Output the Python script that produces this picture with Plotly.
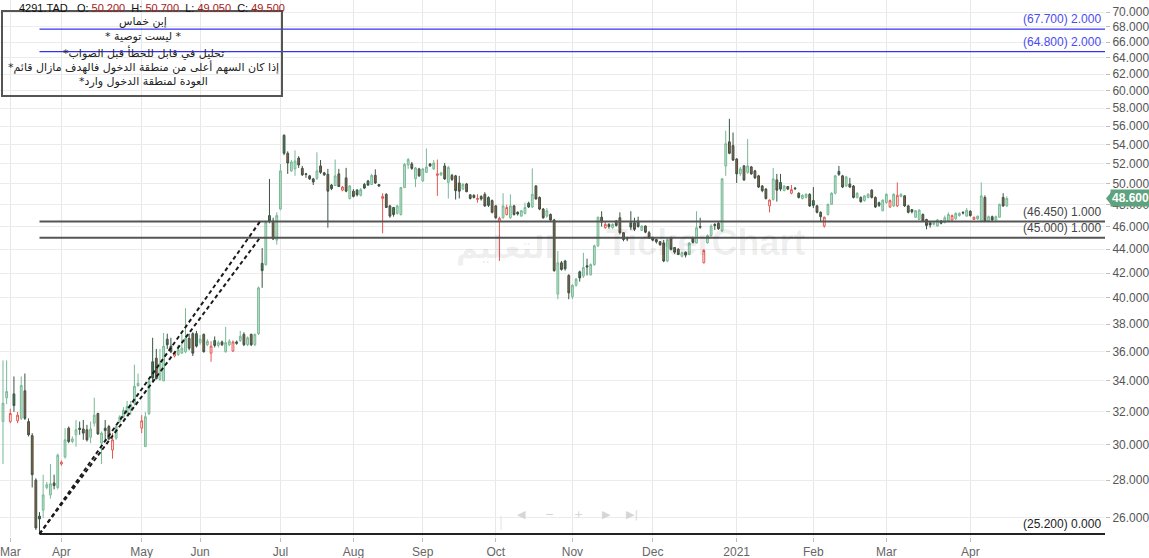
import math
import plotly.graph_objects as go

# ---------------- data ----------------
month_ticks = [2, 16, 38, 54, 76, 96, 115, 135, 156, 178, 201, 222, 242, 265]
month_labels = ["Mar", "Apr", "May", "Jun", "Jul", "Aug", "Sep", "Oct", "Nov", "Dec",
                "2021", "Feb", "Mar", "Apr"]

opens = [31.4, 32.9, 31.4, 33.15, 31.45, 31.6, 33.35, 31.4, 30.55, 28.0, 26.1, 26.4, 27.6, 27.2, 27.85, 27.6,
         28.9, 29.3, 31.0, 30.2, 30.6, 31.0, 30.95, 30.9, 30.45, 31.3, 31.9, 30.1, 31.0, 31.1, 29.7, 30.4,
         31.4, 31.7, 31.95, 32.1, 32.55, 33.7,
         31.0, 29.9, 31.9, 35.3, 35.55, 34.1, 34.0, 36.9, 36.4, 35.7, 35.8, 35.9, 36.0, 36.95, 37.3, 37.3,
         36.65, 37.25, 36.5, 35.9, 36.8, 36.45, 36.7, 36.0, 36.5, 36.05, 36.7, 36.8, 37.25, 36.5, 37.25, 36.5,
         37.3, 42.8, 42.7, 47.0, 46.5, 44.8,
         47.6, 55.0, 53.1, 51.3, 51.5, 52.6, 51.55, 51.0, 50.8, 50.5, 50.55, 51.8, 51.1, 50.95, 49.9, 49.85,
         51.0, 49.4, 50.6, 48.6,
         49.3, 49.4, 48.9, 49.95, 50.3, 49.95, 50.85, 49.95, 48.6, 49.0, 47.9, 47.75, 47.2, 47.1, 49.65, 51.9,
         52.0, 50.5, 51.5,
         50.3, 51.15, 52.0, 51.5, 50.85, 50.9, 51.8, 50.15, 50.85, 50.8, 50.1, 49.5, 50.0, 48.95, 48.9, 48.5,
         48.8, 49.0, 48.7, 48.4,
         47.9, 46.45, 46.8, 47.1, 46.8, 47.9, 47.3, 46.95, 47.2, 48.15, 47.8, 49.8, 48.7, 47.6, 46.95, 47.1,
         46.6, 40.3, 42.85, 43.0, 41.8,
         40.1, 41.0, 42.1, 41.75, 42.6, 41.85, 42.7, 44.3, 46.85, 45.9, 46.2, 45.9, 46.5, 46.8, 45.45, 45.0,
         46.35, 46.35, 46.5, 45.65, 46.05, 45.45,
         45.0, 44.85, 44.65, 44.55, 43.0, 45.0, 44.15, 44.0, 43.4, 43.75, 43.55, 45.0, 44.55, 46.0, 42.85, 44.55,
         45.2, 46.2, 46.3, 45.6, 51.8, 54.3, 53.9,
         52.5, 51.0, 51.8, 51.15, 51.7, 51.3, 50.8, 49.8, 49.5, 47.9, 48.5, 50.4, 50.15, 49.35, 49.75, 49.1,
         49.6, 49.1, 48.6, 48.7, 49.0,
         48.4, 47.9, 47.3, 46.05, 47.1, 48.05, 49.1, 51.25, 50.8, 49.8, 50.0, 49.8, 48.7, 48.7, 48.4, 48.7,
         49.4, 48.7, 48.2, 47.45,
         48.2, 47.8, 47.9, 47.9, 48.8, 48.85, 47.9, 47.55, 46.85, 46.65, 47.1, 46.65, 46.35, 46.2, 46.05, 46.5,
         46.35, 46.5, 46.6, 46.7, 47.0, 47.3, 46.95,
         47.4, 46.65, 46.7, 46.5, 48.7, 46.5, 46.9, 46.6, 46.85, 48.7, 47.9]

highs = [35.4, 35.4, 32.2, 34.3, 32.0, 34.3, 34.5, 31.6, 30.7, 28.1, 26.3, 28.3, 27.9, 28.9, 28.3, 29.5,
         29.1, 31.0, 31.1, 30.5, 31.5, 31.4, 31.5, 31.2, 31.4, 32.9, 31.95, 30.8, 31.5, 31.2, 30.7, 31.2,
         31.8, 32.3, 32.7, 32.7, 35.1, 34.5,
         31.8, 32.0, 34.1, 37.0, 36.2, 36.2, 37.35, 37.3, 37.0, 36.0, 36.5, 37.3, 39.2, 37.3, 37.4, 37.5,
         37.2, 37.3, 36.9, 36.75, 37.1, 36.8, 36.8, 37.8, 36.9, 36.8, 36.8, 37.5, 37.4, 37.1, 37.3, 37.3,
         40.9, 44.1, 46.5, 50.5, 46.8, 47.3,
         52.0, 55.1, 53.3, 52.4, 53.4, 52.8, 51.8, 51.1, 50.9, 50.6, 53.2, 52.4, 51.2, 51.5, 50.0, 52.45,
         51.5, 49.8, 51.6, 49.9,
         49.5, 49.5, 49.6, 50.1, 50.4, 51.0, 51.45, 50.0, 49.1, 49.1, 48.0, 47.8, 48.0, 49.7, 52.1, 52.6,
         52.2, 51.7, 51.6,
         51.6, 53.6, 52.1, 52.4, 52.45, 51.2, 52.1, 51.8, 51.0, 50.9, 50.8, 50.1, 50.1, 49.0, 49.0, 49.0,
         48.9, 49.2, 48.8, 48.5,
         48.0, 46.9, 49.1, 48.0, 49.0, 48.0, 47.4, 47.5, 48.2, 48.3, 51.55, 49.9, 48.8, 47.7, 47.7, 47.2,
         46.7, 43.85, 43.0, 43.1, 41.9,
         41.1, 41.6, 42.2, 43.7, 43.2, 42.8, 44.4, 46.9, 47.4, 46.5, 46.3, 46.3, 46.6, 47.3, 45.5, 45.1,
         47.4, 46.8, 46.9, 46.1, 46.1, 45.6,
         45.1, 44.9, 44.7, 44.8, 45.0, 45.1, 44.2, 44.1, 43.8, 43.8, 44.6, 45.1, 47.4, 46.8, 44.0, 45.3,
         46.2, 46.3, 46.5, 50.6, 55.5, 56.8, 55.3,
         52.6, 51.7, 51.9, 54.6, 51.8, 51.4, 50.9, 49.9, 49.6, 48.5, 51.6, 51.0, 51.0, 49.9, 49.8, 49.9,
         49.7, 49.2, 49.0, 49.1, 49.1,
         49.7, 48.0, 47.4, 46.9, 48.1, 49.2, 50.9, 51.8, 50.9, 50.8, 50.6, 49.9, 49.2, 48.8, 48.9, 49.1,
         49.5, 48.8, 48.3, 48.5,
         49.1, 48.5, 49.1, 50.15, 49.1, 48.9, 48.0, 47.6, 47.5, 47.6, 47.2, 46.7, 46.5, 46.4, 46.7, 46.6,
         47.0, 47.3, 47.1, 47.3, 47.3, 47.4, 47.7,
         47.5, 46.9, 47.0, 50.15, 48.9, 47.0, 47.0, 47.0, 48.1, 49.1, 48.8]

lows = [28.9, 32.5, 31.3, 32.0, 31.3, 31.5, 31.5, 30.5, 27.6, 25.4, 25.2, 26.0, 27.5, 27.0, 27.5, 27.5,
        28.8, 29.2, 30.1, 30.1, 29.9, 30.6, 30.3, 30.2, 30.1, 31.1, 30.6, 28.9, 30.3, 30.3, 29.2, 30.3,
        31.3, 31.6, 31.7, 31.8, 32.4, 33.6,
        30.7, 29.9, 31.8, 34.0, 34.1, 34.0, 34.0, 36.2, 35.9, 35.6, 35.7, 35.85, 35.9, 36.1, 35.7, 36.3,
        36.5, 35.95, 36.4, 35.3, 36.3, 36.3, 36.4, 35.95, 36.4, 36.0, 36.5, 36.7, 36.4, 36.4, 36.4, 36.4,
        37.2, 40.8, 42.6, 46.3, 44.8, 44.4,
        47.5, 52.9, 51.0, 51.2, 50.8, 51.6, 50.8, 50.6, 50.4, 49.9, 50.4, 51.0, 50.8, 45.9, 49.4, 49.8,
        49.7, 49.3, 49.2, 48.5,
        48.7, 48.8, 48.8, 49.5, 49.8, 49.9, 50.0, 49.7, 45.4, 47.7, 46.8, 46.9, 47.1, 47.0, 49.6, 51.5,
        51.4, 49.7, 50.7,
        50.2, 51.1, 51.7, 51.4, 48.85, 50.8, 50.4, 48.6, 50.3, 48.5, 48.6, 49.4, 49.2, 48.5, 48.6, 48.2,
        48.4, 47.8, 47.8, 47.2,
        46.7, 43.0, 46.7, 47.0, 46.7, 47.0, 47.0, 46.9, 47.1, 47.7, 47.7, 48.5, 47.5, 46.7, 46.8, 46.5,
        42.1, 39.9, 42.2, 42.2, 39.9,
        39.9, 40.9, 41.3, 41.6, 41.8, 41.8, 42.6, 44.2, 46.0, 45.8, 45.8, 45.8, 46.0, 45.3, 44.7, 44.7,
        45.7, 45.6, 45.9, 45.6, 45.4, 44.9,
        44.7, 44.5, 44.3, 42.9, 42.9, 43.9, 43.6, 43.5, 43.3, 43.3, 43.5, 44.5, 44.5, 45.8, 42.8, 44.5,
        45.1, 45.7, 45.7, 45.5, 50.8, 53.0, 52.3,
        50.1, 50.8, 50.3, 51.0, 50.9, 50.5, 49.6, 49.2, 48.5, 47.3, 48.4, 48.3, 49.3, 49.3, 49.4, 49.0,
        49.4, 48.6, 48.5, 48.6, 47.8,
        47.7, 47.2, 46.4, 45.9, 47.0, 48.0, 49.0, 50.8, 49.6, 49.7, 49.6, 48.6, 48.6, 48.2, 48.3, 48.6,
        48.6, 47.7, 47.8, 47.4,
        48.1, 47.7, 47.8, 47.8, 48.7, 47.8, 47.2, 47.2, 46.8, 46.6, 46.4, 45.75, 45.9, 46.1, 46.0, 46.2,
        46.3, 46.4, 46.5, 46.6, 46.9, 47.1, 46.9,
        46.9, 46.6, 46.6, 46.4, 46.4, 46.4, 46.5, 46.5, 46.8, 47.8, 47.8]

closes = [32.55, 33.3, 31.9, 32.4, 31.8, 33.7, 31.6, 30.6, 28.3, 25.5, 25.95, 27.2, 27.75, 27.8, 27.7, 29.4,
          29.0, 30.3, 30.2, 30.35, 30.9, 30.92, 30.7, 30.3, 30.95, 31.8, 30.65, 30.7, 30.85, 30.35, 30.3, 31.1,
          31.7, 32.1, 32.35, 32.45, 33.65, 33.85,
          31.45, 31.7, 34.0, 34.2, 34.15, 35.2, 36.4, 36.5, 36.0, 35.9, 36.15, 36.25, 36.95, 36.25, 35.9, 36.4,
          36.9, 36.0, 36.75, 36.4, 36.45, 36.65, 36.5, 36.65, 36.75, 36.7, 36.6, 37.1, 36.5, 37.0, 36.5, 37.25,
          40.8, 42.2, 46.4, 46.5, 44.9, 47.0,
          51.3, 53.1, 52.1, 52.2, 52.3, 51.9, 50.9, 50.95, 50.5, 50.2, 51.3, 51.15, 50.9, 49.3, 49.55, 50.8,
          49.75, 49.7, 49.3, 49.8,
          48.8, 48.95, 49.45, 49.6, 49.9, 50.85, 50.1, 49.8, 48.8, 47.75, 46.95, 47.1, 47.9, 49.65, 51.95, 52.45,
          51.55, 51.6, 50.8,
          51.5, 51.7, 51.8, 52.1, 51.0, 51.1, 50.5, 51.65, 50.45, 49.35, 49.3, 49.95, 49.25, 48.6, 48.7, 48.6,
          48.55, 47.9, 47.95, 47.3,
          46.8, 46.75, 47.9, 47.75, 47.9, 47.1, 47.15, 47.45, 47.75, 47.8, 49.0, 48.55, 47.6, 46.8, 47.45, 46.6,
          42.2, 42.85, 42.3, 42.35, 40.4,
          41.0, 41.5, 41.6, 42.45, 42.5, 42.7, 44.3, 46.85, 46.4, 46.2, 46.0, 46.2, 46.1, 45.45, 44.85, 44.9,
          45.95, 45.75, 46.0, 46.05, 45.5, 45.0,
          44.8, 44.65, 44.4, 43.0, 44.85, 44.0, 43.75, 43.55, 43.7, 43.5, 44.55, 44.6, 45.9, 45.95, 43.9, 45.2,
          46.05, 46.1, 45.8, 50.5, 54.1, 53.1, 52.4,
          51.0, 51.5, 50.4, 51.8, 51.0, 50.6, 49.7, 49.35, 48.6, 48.45, 50.5, 49.4, 49.5, 49.8, 49.5, 49.45,
          49.55, 48.7, 48.9, 49.0, 47.9,
          47.95, 47.3, 46.9, 46.85, 48.05, 49.1, 50.8, 50.95, 49.7, 50.7, 49.7, 48.7, 49.1, 48.3, 48.85, 49.0,
          48.7, 47.8, 47.95, 48.45,
          49.0, 48.4, 49.0, 48.9, 49.0, 47.9, 47.3, 47.35, 47.45, 47.5, 46.5, 46.1, 46.15, 46.35, 46.6, 46.3,
          46.8, 47.1, 47.0, 47.2, 47.2, 47.25, 47.5,
          47.0, 46.85, 46.95, 48.85, 46.5, 46.9, 46.6, 46.9, 48.05, 47.9, 48.6]

levels = [67.7, 64.8, 46.45, 45.0, 25.2]
level_ratios = ["2.000", "2.000", "1.000", "1.000", "0.000"]
level_start = 10                        # candle index of the 25.20 low
fan_end = [(70.4, 46.45), (70.4, 45.0)]  # dashed trend lines from the low

ticker = "4291.TAD"
ohlc_header = [("O", "50.200"), ("H", "50.700"), ("L", "49.050"), ("C", "49.500")]
note_lines = ["إبن خماس",
              "* ليست توصية *",
              "تحليل في قابل للخطأ قبل الصواب*",
              "إذا كان السهم أعلى من منطقة الدخول فالهدف مازال قائم*",
              "العودة لمنطقة الدخول وارد*"]
nav_symbols = ["◀", "−", "+", "▶", "▶|"]
last_price = closes[-1]

# ---------------- figure ----------------
W, H = 1149, 558
ML, MR, MT, MB = 0, 44, 0, 21
PW, PH = W - ML - MR, H - MT - MB
y_lo, y_hi = math.log10(25.05), math.log10(71.68)
x_lo, x_hi = -0.82, 301.9

fig = go.Figure()

# candle groups (hollow-candle style)
groups = {
    "up_rise": dict(fill="rgba(168,216,187,0.75)", line="#78b996"),
    "up_fall": dict(fill="#ffffff", line="#e5574f"),
    "dn_fall": dict(fill="#a4583c", line="#3a5344"),
    "dn_rise": dict(fill="#40805c", line="#3a5344"),
}
members = {k: [] for k in groups}
for i in range(len(closes)):
    prev = closes[i - 1] if i > 0 else opens[i]
    up = closes[i] >= opens[i]
    rise = closes[i] >= prev
    key = ("up_" if up else "dn_") + ("rise" if rise else "fall")
    members[key].append(i)

n = len(closes)
for key, sty in groups.items():
    idx = set(members[key])
    o = [opens[i] if i in idx else None for i in range(n)]
    h = [highs[i] if i in idx else None for i in range(n)]
    l = [lows[i] if i in idx else None for i in range(n)]
    c = [closes[i] if i in idx else None for i in range(n)]
    st = dict(line=dict(color=sty["line"], width=1), fillcolor=sty["fill"])
    fig.add_trace(go.Candlestick(x=list(range(n)), open=o, high=h, low=l, close=c,
                                 increasing=st, decreasing=st, whiskerwidth=0,
                                 showlegend=False, hoverinfo="skip"))

# horizontal levels
level_colors = ["#3434f0", "#3434f0", "#555555", "#555555", "#222222"]
level_widths = [1.3, 1.3, 2, 2, 2]
for lv, col, wd in zip(levels, level_colors, level_widths):
    fig.add_trace(go.Scatter(x=[level_start, x_hi], y=[lv, lv], mode="lines",
                             line=dict(color=col, width=wd), showlegend=False, hoverinfo="skip"))

# dashed lines from the low
for (xe, ye) in fan_end:
    fig.add_trace(go.Scatter(x=[level_start, xe], y=[lows[level_start], ye], mode="lines",
                             line=dict(color="#1a1a1a", width=2, dash="4px,3px"),
                             showlegend=False, hoverinfo="skip"))

annotations = []
label_colors = ["#4b4bf0", "#4b4bf0", "#444444", "#444444", "#222222"]
for lv, r, col in zip(levels, level_ratios, label_colors):
    annotations.append(dict(xref="paper", yref="y", x=1, y=math.log10(lv),
                            xanchor="right", yanchor="bottom", xshift=-2, yshift=1,
                            text=f"({lv:.3f}) {r}", showarrow=False,
                            font=dict(family="Liberation Sans, Arial", size=12, color=col)))

# header
hdr = ticker + "\u00a0\u00a0\u00a0"
for k, v in ohlc_header:
    hdr += f"{k}:\u00a0<span style='color:#a3201c'>{v}</span>\u00a0\u00a0"
annotations.append(dict(xref="paper", yref="paper", x=17 / PW, y=1 - 8 / PH,
                        xanchor="left", yanchor="middle", text=hdr, showarrow=False,
                        font=dict(family="Liberation Sans, Arial", size=11, color="#111111")))
# note lines (right-to-left paragraphs)
RLM = "\u200F"
note_y = [22, 37, 52, 67, 81]
for t, yy in zip(note_lines, note_y):
    annotations.append(dict(xref="paper", yref="paper", x=143 / PW, y=1 - yy / PH,
                            xanchor="center", yanchor="middle", text=RLM + t + RLM, showarrow=False,
                            font=dict(family="DejaVu Sans", size=11, color="#222222")))

# watermark
annotations.append(dict(xref="paper", yref="paper", x=505 / PW, y=1 - 248 / PH,
                        text="<b>التعليم</b>", showarrow=False,
                        font=dict(family="DejaVu Sans", size=30, color="rgba(0,0,0,0.07)")))
annotations.append(dict(xref="paper", yref="paper", x=705 / PW, y=1 - 242 / PH,
                        text="<b>TickerChart</b>", showarrow=False,
                        font=dict(family="Liberation Sans, Arial", size=36, color="rgba(0,0,0,0.07)")))

# faint navigation controls
nav_x = [521, 549, 578, 606, 632]
shapes = [dict(type="line", xref="paper", yref="paper", x0=501 / PW, x1=501 / PW,
               y0=1 - 516 / PH, y1=1 - 530 / PH, line=dict(color="#e2e2e2", width=1))]
for s, xx in zip(nav_symbols, nav_x):
    annotations.append(dict(xref="paper", yref="paper", x=xx / PW, y=1 - 523 / PH,
                            text=s, showarrow=False,
                            font=dict(family="DejaVu Sans", size=11, color="#d6d6d6")))

# price tag
fy = (math.log10(last_price) - y_lo) / (y_hi - y_lo)
hh = 7.5 / PH
x_tip, x_box, x_end = 1106 / PW, 1112 / PW, 1149 / PW
shapes += [
    dict(type="rect", xref="paper", yref="paper", x0=2 / PW, x1=282 / PW,
         y0=1 - 96 / PH, y1=1 - 11 / PH, line=dict(color="#555555", width=2)),
    dict(type="path", xref="paper", yref="paper",
         path=f"M {x_tip} {fy} L {x_box} {fy + hh} L {x_end} {fy + hh} L {x_end} {fy - hh} L {x_box} {fy - hh} Z",
         fillcolor="#5fa27e", line=dict(width=0)),
]
annotations.append(dict(xref="paper", yref="paper", x=1130 / PW, y=fy, xanchor="center",
                        yanchor="middle", text=f"<b>{last_price:.3f}</b>", showarrow=False,
                        bgcolor="#5fa27e",
                        font=dict(family="Liberation Sans, Arial", size=12, color="white")))

y_tickvals = list(range(26, 71, 2))
fig.update_layout(
    width=W, height=H, margin=dict(l=ML, r=MR, t=MT, b=MB),
    paper_bgcolor="white", plot_bgcolor="white",
    showlegend=False, annotations=annotations, shapes=shapes,
    xaxis=dict(range=[x_lo, x_hi], tickvals=month_ticks, ticktext=month_labels,
               showgrid=True, gridcolor="#e8e8e8", zeroline=False, showline=False,
               ticks="outside", ticklen=4, tickcolor="#bbbbbb", ticklabeloverflow="allow",
               tickfont=dict(family="Liberation Sans, Arial", size=12, color="#666666"),
               rangeslider=dict(visible=False), fixedrange=True),
    yaxis=dict(type="log", range=[y_lo, y_hi], side="right", tickvals=y_tickvals,
               ticktext=[f"{v:.3f}" for v in y_tickvals],
               showgrid=True, gridcolor="#ececec", zeroline=False, showline=False,
               ticks="outside", ticklen=4, tickcolor="#bbbbbb",
               tickfont=dict(family="Liberation Sans, Arial", size=12, color="#555555")),
)

fig.write_html("out.html", config={"displayModeBar": False},
               post_script="document.body.style.margin='0px';document.body.style.padding='0px';"
                           "document.body.style.overflow='hidden';")
